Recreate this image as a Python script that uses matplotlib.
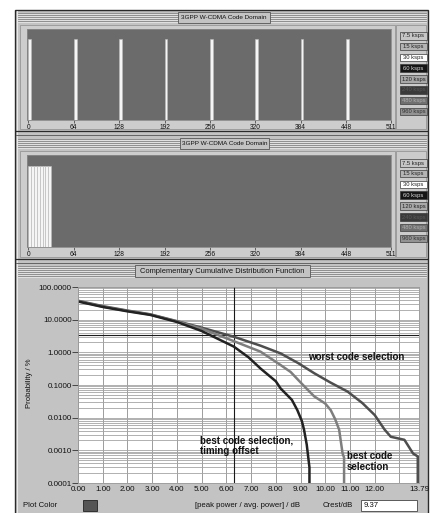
import matplotlib.pyplot as plt
from matplotlib.patches import Rectangle
import numpy as np

plt.rcParams['font.family'] = ['Liberation Sans', 'DejaVu Sans']

W, H = 431, 513

# ---- code domain data ----
codes_top = [0, 64, 128, 192, 256, 320, 384, 448]
power_top = [0.89, 0.89, 0.89, 0.89, 0.89, 0.89, 0.89, 0.89]
codes_bottom = [0, 4, 8, 12, 16, 20, 24, 28]
power_bottom = [0.885, 0.885, 0.885, 0.885, 0.885, 0.885, 0.885, 0.885]
code_ticks = [0, 64, 128, 192, 256, 320, 384, 448, 511]
rates = ["7.5 ksps", "15 ksps", "30 ksps", "60 ksps",
         "120 ksps", "240 ksps", "480 ksps", "960 ksps"]

# ---- CCDF data (x in dB, probability in %) ----
worst_x = [0.0, 1.0, 2.0, 2.92, 4.0, 5.0, 6.3, 7.38, 8.19, 8.9, 9.55, 10.2,
           10.9, 11.5, 12.0, 12.4, 12.65, 13.2, 13.55, 13.74, 13.74]
worst_p = [38, 26, 19, 14.6, 9, 5.7, 3.0, 1.6, 0.93, 0.47, 0.23, 0.12,
           0.063, 0.028, 0.012, 0.0043, 0.0026, 0.0021, 0.0008, 0.00065, 0.0001]
best_x = [0.0, 1.0, 2.0, 2.92, 4.0, 5.0, 6.3, 7.38, 8.19, 8.6, 9.1, 9.55,
          10.0, 10.22, 10.4, 10.56, 10.7, 10.76, 10.76]
best_p = [37, 25, 18.5, 14.3, 8.8, 5.3, 2.2, 1.05, 0.41, 0.25, 0.1, 0.045,
          0.027, 0.017, 0.009, 0.0043, 0.0008, 0.0006, 0.0001]
offset_x = [0.0, 1.0, 2.0, 2.92, 4.0, 5.0, 6.3, 6.9, 7.38, 8.0, 8.19, 8.65,
            8.87, 9.05, 9.14, 9.25, 9.34, 9.36, 9.36]
offset_p = [36, 24.5, 18, 14, 8.5, 4.5, 1.5, 0.7, 0.32, 0.13, 0.079, 0.035,
            0.017, 0.008, 0.0043, 0.0015, 0.0004, 0.0003, 0.0001]
x_ticks = [0, 1, 2, 3, 4, 5, 6, 7, 8, 9, 10, 11, 12, 13.79]
y_ticks = [100, 10, 1, 0.1, 0.01, 0.001, 0.0001]
cursor_x = 6.30
ref_level = 3.4
crest = "9.37"

# ---- styles ----
PANEL = '#c3c3c3'
rate_face = ['#c6c6c6', '#b4b4b4', '#ffffff', '#151515',
             '#a9a9a9', '#3a3a3a', '#707070', '#939393']
rate_text = ['#222222', '#222222', '#222222', '#d8d8d8',
             '#222222', '#5a5a5a', '#b0b0b0', '#333333']

fig = plt.figure(figsize=(W / 100, H / 100), dpi=100)
fig.patch.set_facecolor('white')

bg = fig.add_axes([0, 0, 1, 1])
bg.set_xlim(0, W)
bg.set_ylim(H, 0)
bg.axis('off')


def rect(x0, y0, x1, y1, fc, ec='none', lw=0.6, z=1):
    bg.add_patch(Rectangle((x0, y0), x1 - x0, y1 - y0, facecolor=fc,
                           edgecolor=ec, linewidth=lw, zorder=z))


def title_bar(y0, y1, lx0, lx1, label, fs):
    for y in np.arange(y0 + 1, y1, 2):
        bg.plot([18, 426], [y, y], color='#7a7a7a', lw=0.5, zorder=2)
        bg.plot([18, 426], [y + 1, y + 1], color='#ededed', lw=0.5, zorder=2)
    rect(lx0, y0, lx1, y1, PANEL, ec='#555555', lw=0.6, z=3)
    bg.text((lx0 + lx1) / 2, (y0 + y1) / 2 + 0.3, label, fontsize=fs,
            ha='center', va='center', color='#111111', zorder=4)


def px_axes(x0, y0, x1, y1):
    return fig.add_axes([x0 / W, 1 - y1 / H, (x1 - x0) / W, (y1 - y0) / H])


# main frame
rect(15, 10, 428, 514, PANEL, ec='#2a2a2a', lw=1.0)
bg.plot([17, 17], [11, 513], color='#f0f0f0', lw=0.6, zorder=2)
# panel separators
for ys in (131, 259):
    bg.plot([16, 427], [ys, ys], color='#2a2a2a', lw=0.9, zorder=2)
    bg.plot([16, 427], [ys + 4, ys + 4], color='#555555', lw=0.6, zorder=2)

title_bar(12, 23, 178, 270, "3GPP W-CDMA Code Domain", 4.6)
title_bar(138, 149, 180, 269, "3GPP W-CDMA Code Domain", 4.6)
title_bar(265, 277, 135, 310, "Complementary Cumulative Distribution Function", 5.4)

# inner sunken frames of code-domain panels
for (y0, y1) in ((25, 129), (151, 257)):
    rect(20, y0, 395, y1, '#cdcdcd', ec='#8c8c8c', lw=0.5)
    rect(396, y0, 426, y1, '#cbcbcb', ec='#8c8c8c', lw=0.5)

# rate legends
for ystart in (32, 159):
    for i, r in enumerate(rates):
        y0 = ystart + i * 10.8
        rect(400, y0, 427, y0 + 7.6, rate_face[i], ec='#3a3a3a', lw=0.5, z=3)
        bg.text(413.5, y0 + 4.0, r, fontsize=4.2, ha='center', va='center',
                color=rate_text[i], zorder=4)


def code_axes(ax, codes, power):
    ax.set_facecolor('#6b6b6b')
    ax.bar(codes, power, width=4, align='edge', color='#f5f5f5',
           edgecolor='#bcbcbc', linewidth=0.4)
    ax.set_xlim(-2, 511.5)
    ax.set_ylim(0, 1)
    ax.set_yticks([])
    ax.set_xticks(code_ticks)
    ax.set_xticklabels([str(c) for c in code_ticks], fontsize=4.8, color='#111111')
    ax.tick_params(axis='x', length=2.5, width=0.5, pad=0.6, color='#333333')
    for s in ax.spines.values():
        s.set_color('#8a8a8a')
        s.set_linewidth(0.6)


code_axes(px_axes(27, 29, 391, 120), codes_top, power_top)
code_axes(px_axes(27, 155, 391, 247), codes_bottom, power_bottom)

# ---- CCDF axes ----
ax = px_axes(78, 287, 419, 483)
ax.set_facecolor('white')
ax.set_yscale('log')
ax.set_ylim(1e-4, 100)
ax.set_xlim(0, 13.79)
ax.set_yticks(y_ticks)
ax.set_yticklabels([f"{v:.4f}" for v in y_ticks], fontsize=5.8, color='#111111')
ax.yaxis.set_minor_locator(plt.matplotlib.ticker.LogLocator(base=10, subs=np.arange(2, 10)))
ax.yaxis.set_minor_formatter(plt.NullFormatter())
ax.set_xticks(x_ticks)
ax.set_xticklabels([f"{v:.2f}" for v in x_ticks], fontsize=5.8, color='#111111')
ax.set_xticks([13], minor=True)
ax.tick_params(axis='y', which='major', length=4, width=0.6, pad=0.5, color='#333333')
ax.tick_params(axis='y', which='minor', length=0)
ax.tick_params(axis='x', which='both', length=0, pad=2)
ax.grid(True, which='both', axis='y', color='#a4a4a4', lw=0.6)
ax.grid(True, which='both', axis='x', color='#9c9c9c', lw=0.7)
for s in ax.spines.values():
    s.set_color('#9a9a9a')
    s.set_linewidth(0.6)

ax.axvline(cursor_x, color='#1a1a1a', lw=0.8)
ax.axhline(ref_level, color='#1a1a1a', lw=0.8)

ax.plot(worst_x, worst_p, color='#4e4e4e', lw=1.8)
ax.plot(best_x, best_p, color='#7e7e7e', lw=1.8)
ax.plot(offset_x, offset_p, color='#222222', lw=1.8)

ax.text(11.25, 0.72, "worst code selection", fontsize=7, fontweight='bold',
        ha='center', va='center', color='#111111')
ax.text(4.93, 0.00138, "best code selection,\ntiming offset", fontsize=7,
        fontweight='bold', ha='left', va='center', color='#111111', linespacing=1.1)
ax.text(10.88, 0.00045, "best code\nselection", fontsize=7, fontweight='bold',
        ha='left', va='center', color='#111111', linespacing=1.1)

# labels and bottom row
bg.text(30, 383, "Probability / %", rotation=90, fontsize=5.6,
        ha='center', va='center', color='#111111')
bg.text(23, 505.5, "Plot Color", fontsize=5.6, ha='left', va='center', color='#111111')
rect(83, 500, 97, 511, '#555555', ec='#222222', lw=0.6, z=3)
bg.text(248, 505.5, "[peak power / avg. power] / dB", fontsize=5.6,
        ha='center', va='center', color='#111111')
bg.text(323, 505.5, "Crest/dB", fontsize=5.6, ha='left', va='center', color='#111111')
rect(361, 500, 417, 511, 'white', ec='#444444', lw=0.6, z=3)
bg.text(363.5, 505.5, crest, fontsize=5.6, ha='left', va='center', color='#111111', zorder=4)

fig.savefig("out.png", dpi=100)
